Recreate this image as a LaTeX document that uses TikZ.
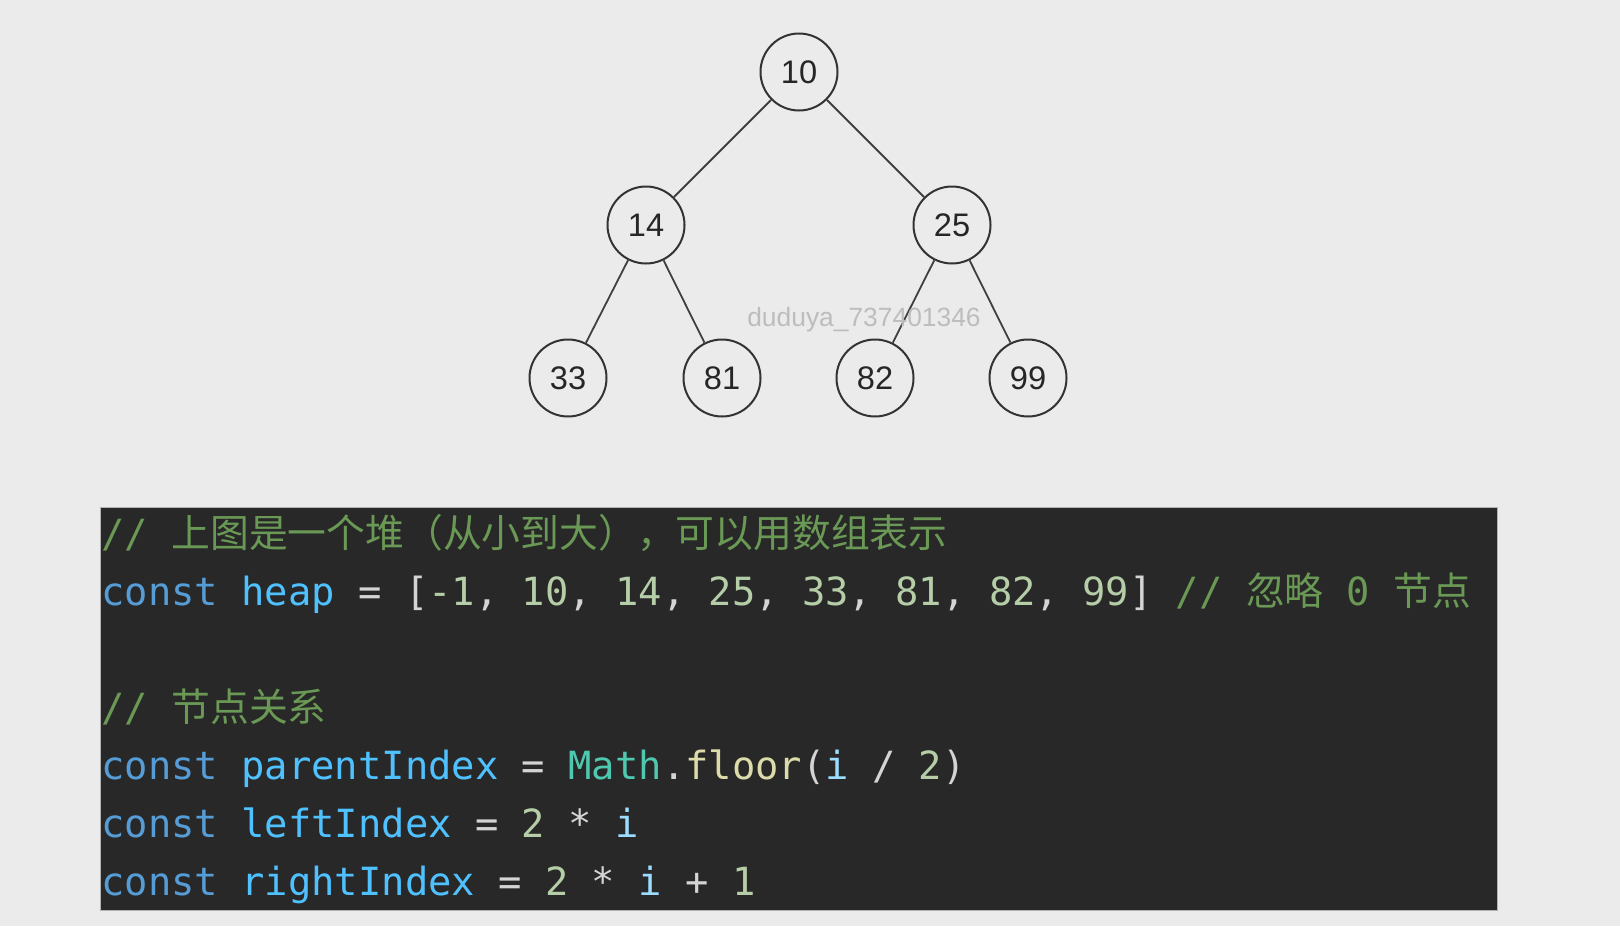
\documentclass[tikz,border=0pt]{standalone}
\usepackage{fontspec}
\setmainfont{Liberation Sans}
\setmonofont{DejaVu Sans Mono}
\newfontfamily\cjk{Noto Sans CJK SC}
\definecolor{pagebg}{HTML}{EBEBEB}
\definecolor{codebg}{HTML}{282828}
\definecolor{kwblue}{HTML}{569CD6}
\definecolor{varblue}{HTML}{4FC1FF}
\definecolor{idblue}{HTML}{9CDCFE}
\definecolor{numgreen}{HTML}{B5CEA8}
\definecolor{cmtgreen}{HTML}{6A9955}
\definecolor{clsteal}{HTML}{4EC9B0}
\definecolor{fnyellow}{HTML}{DCDCAA}
\definecolor{opgray}{HTML}{D4D4D4}
\definecolor{wmgray}{HTML}{BDBDBD}
\newcommand{\hkw}[1]{\textcolor{kwblue}{#1}}
\newcommand{\hvar}[1]{\textcolor{varblue}{#1}}
\newcommand{\hid}[1]{\textcolor{idblue}{#1}}
\newcommand{\hnum}[1]{\textcolor{numgreen}{#1}}
\newcommand{\hcom}[1]{\textcolor{cmtgreen}{#1}}
\newcommand{\hcls}[1]{\textcolor{clsteal}{#1}}
\newcommand{\hfn}[1]{\textcolor{fnyellow}{#1}}
\frenchspacing

\begin{document}
\begin{tikzpicture}[x=0.5pt,y=-0.5pt,
    heapnode/.style={circle,draw=black!80,line width=1pt,minimum size=38.5pt,inner sep=0pt,
      font=\fontsize{16.3}{16}\selectfont,text=black!85},
    edge/.style={draw=black!75,line width=0.9pt},
    codeline/.style={anchor=base west,inner sep=0pt,text=opgray,
      font=\ttfamily\fontsize{19.4}{20}\selectfont}]
  \fill[pagebg] (0,0) rectangle (1620,926);
  \useasboundingbox (0,0) rectangle (1620,926);
  % heap tree
  \node[heapnode] (n10) at (799,72) {10};
  \node[heapnode] (n14) at (646,225) {14};
  \node[heapnode] (n25) at (952,225) {25};
  \node[heapnode] (n33) at (568,378) {33};
  \node[heapnode] (n81) at (722,378) {81};
  \node[heapnode] (n82) at (875,378) {82};
  \node[heapnode] (n99) at (1028,378) {99};
  \draw[edge] (n10) -- (n14);
  \draw[edge] (n10) -- (n25);
  \draw[edge] (n14) -- (n33);
  \draw[edge] (n14) -- (n81);
  \draw[edge] (n25) -- (n82);
  \draw[edge] (n25) -- (n99);
  \node[text=wmgray,font=\fontsize{13.2}{13}\selectfont] (wm) at (864,320) {duduya\_737401346};
  % code block
  \filldraw[fill=codebg,draw=black!30,line width=0.5pt] (100,507) rectangle (1497,910);
  \node[codeline] (l1) at (101,547) {\hcom{// {\cjk 上图是一个堆（从小到大），可以用数组表示}}};
  \node[codeline] (l2) at (101,605) {\hkw{const} \hvar{heap} = [\hnum{-1}, \hnum{10}, \hnum{14}, \hnum{25}, \hnum{33}, \hnum{81}, \hnum{82}, \hnum{99}] \hcom{// {\cjk 忽略} 0 {\cjk 节点}}};
  \node[codeline] (l4) at (101,721) {\hcom{// {\cjk 节点关系}}};
  \node[codeline] (l5) at (101,779) {\hkw{const} \hvar{parentIndex} = \hcls{Math}.\hfn{floor}(\hid{i} / \hnum{2})};
  \node[codeline] (l6) at (101,837) {\hkw{const} \hvar{leftIndex} = \hnum{2} * \hid{i}};
  \node[codeline] (l7) at (101,895) {\hkw{const} \hvar{rightIndex} = \hnum{2} * \hid{i} + \hnum{1}};
\end{tikzpicture}
\end{document}
